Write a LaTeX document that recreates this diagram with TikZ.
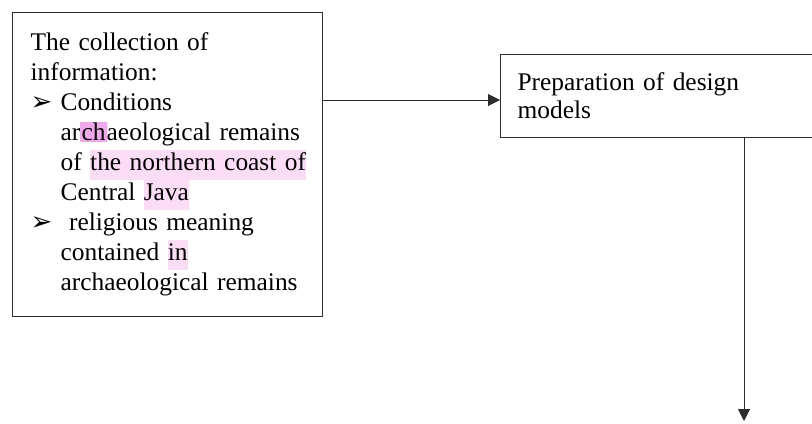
\documentclass[tikz,border=0pt]{standalone}
\usepackage{fontspec}
\setmainfont{Liberation Serif}
\newfontfamily\symfont{DejaVu Sans}
\usetikzlibrary{positioning, arrows.meta}

\definecolor{hlpink}{RGB}{250,221,245}
\definecolor{hlmark}{RGB}{240,168,234}
\definecolor{edge}{RGB}{45,45,45}

\newcommand{\hlt}[1]{{\setlength{\fboxsep}{0pt}\colorbox{hlpink}{\strut #1}}}
\newcommand{\hlmark}[1]{{\setlength{\fboxsep}{0.6pt}\colorbox{hlmark}{#1}}}
\newcommand{\pointer}{\makebox[15pt][l]{\symfont\fontsize{13}{15}\selectfont ➢}}
\newcommand{\indented}{\hspace*{15pt}}

\begin{document}
\begin{tikzpicture}[
x=0.5pt, y=-0.5pt,
block/.style={
	rectangle,
	draw=edge,
	line width=0.6pt,
	align=left,
	anchor=north west,
	inner xsep=9pt,
	font=\fontsize{12.7}{15}\selectfont
},
line/.style={
	draw=edge, line width=0.5pt, -{Triangle[length=6pt,width=6pt]}
}
]
\useasboundingbox (0,0) rectangle (812,423);

% Nodes
\node[block, text width=137pt, minimum height=152pt] (collect) at (12,12) {The collection of\\
information:\\
\pointer Conditions\\
\indented\mbox{ar\hlmark{ch}aeological remains}\\
\indented\mbox{of \hlt{the northern coast of}}\\
\indented Central \hlt{Java}\\
\pointer\ religious meaning\\
\indented contained \hlt{in}\\
\indented\mbox{archaeological remains}\par\vspace*{10pt}};
\node[block, text width=150pt, minimum height=41.5pt, inner xsep=8.5pt,
	font=\fontsize{12.7}{14}\selectfont] (design) at (500,54) {Preparation of design\\
models};
\coordinate (level) at (0,100);
\coordinate (bottom) at (744,421);

% Lines
\draw[line] (collect.east |- level) -- (design.west |- level);
\draw[line] (design.south -| bottom) -- (bottom);

\end{tikzpicture}
\end{document}
